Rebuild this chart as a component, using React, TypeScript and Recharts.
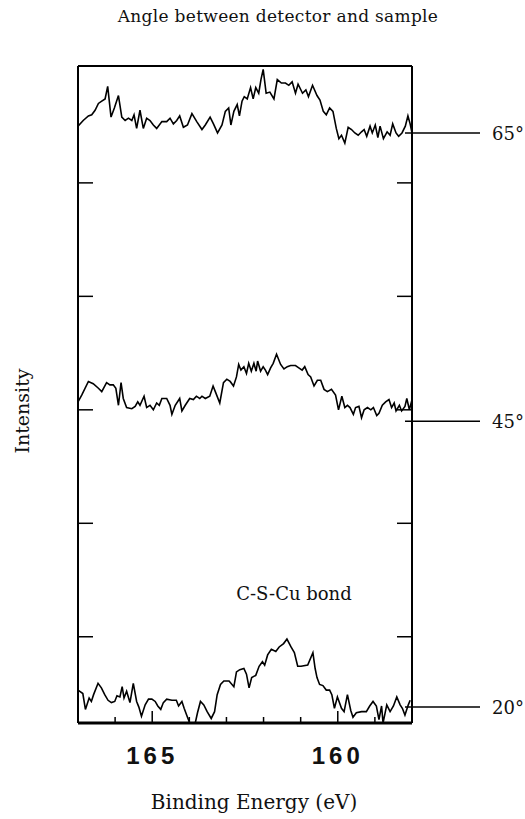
import { LineChart, Line, XAxis, YAxis, ReferenceDot } from 'recharts';

// binding energy (eV) and intensity (arb. units, curves stacked as in the figure)
const energy65 = [
  167.0, 166.86, 166.72, 166.63, 166.54, 166.45, 166.36, 166.27, 166.2, 166.11,
  166.02, 165.91, 165.82, 165.73, 165.64, 165.55, 165.49, 165.42, 165.33, 165.24,
  165.15, 165.06, 164.97, 164.88, 164.74, 164.61, 164.52, 164.43, 164.34, 164.26,
  164.16, 164.05, 163.93, 163.8, 163.66, 163.57, 163.44, 163.35, 163.24, 163.12,
  163.03, 162.94, 162.88, 162.8, 162.71, 162.65, 162.58, 162.52, 162.44, 162.35,
  162.28, 162.21, 162.13, 162.07, 162.01, 161.93, 161.83, 161.72, 161.63, 161.52,
  161.41, 161.32, 161.23, 161.14, 161.07, 160.95, 160.86, 160.79, 160.68, 160.56,
  160.48, 160.39, 160.31, 160.22, 160.13, 160.04, 159.97, 159.9, 159.81, 159.72,
  159.63, 159.54, 159.45, 159.36, 159.29, 159.22, 159.13, 159.07, 158.99, 158.92,
  158.86, 158.77, 158.67, 158.59, 158.52, 158.43, 158.36, 158.27, 158.18, 158.11,
  158.05, 158.0,
];
const intensity65 = [
  4.5, 4.55, 4.59, 4.6, 4.64, 4.7, 4.72, 4.74, 4.85, 4.58,
  4.66, 4.77, 4.58, 4.55, 4.57, 4.55, 4.6, 4.48, 4.64, 4.48,
  4.57, 4.55, 4.51, 4.48, 4.54, 4.54, 4.57, 4.52, 4.55, 4.59,
  4.49, 4.51, 4.61, 4.54, 4.47, 4.51, 4.58, 4.52, 4.44, 4.51,
  4.63, 4.66, 4.51, 4.63, 4.69, 4.59, 4.72, 4.76, 4.74, 4.84,
  4.74, 4.84, 4.79, 4.91, 5.0, 4.79, 4.8, 4.74, 4.91, 4.88,
  4.88, 4.86, 4.89, 4.79, 4.87, 4.79, 4.82, 4.76, 4.86, 4.77,
  4.73, 4.63, 4.6, 4.66, 4.63, 4.48, 4.39, 4.42, 4.35, 4.49,
  4.47, 4.44, 4.42, 4.45, 4.47, 4.41, 4.5, 4.44, 4.51, 4.4,
  4.5, 4.39, 4.45, 4.42, 4.52, 4.44, 4.41, 4.44, 4.5, 4.59,
  4.52, 4.44,
];

const energy45 = [
  167.0, 166.9, 166.72, 166.59, 166.45, 166.36, 166.23, 166.14, 166.05, 165.98,
  165.91, 165.84, 165.78, 165.69, 165.55, 165.46, 165.39, 165.33, 165.22, 165.15,
  165.06, 164.97, 164.88, 164.81, 164.74, 164.61, 164.52, 164.47, 164.38, 164.26,
  164.2, 164.11, 163.99, 163.89, 163.81, 163.72, 163.66, 163.57, 163.45, 163.36,
  163.3, 163.18, 163.08, 162.99, 162.9, 162.81, 162.73, 162.67, 162.61, 162.53,
  162.46, 162.4, 162.33, 162.26, 162.2, 162.16, 162.08, 162.01, 161.95, 161.89,
  161.81, 161.74, 161.65, 161.54, 161.45, 161.36, 161.27, 161.14, 161.05, 160.96,
  160.89, 160.8, 160.73, 160.64, 160.55, 160.46, 160.37, 160.28, 160.17, 160.06,
  159.98, 159.89, 159.81, 159.74, 159.67, 159.58, 159.52, 159.43, 159.36, 159.29,
  159.2, 159.11, 159.04, 158.95, 158.89, 158.8, 158.71, 158.62, 158.55, 158.48,
  158.43, 158.34, 158.28, 158.19, 158.14, 158.07, 158.0,
];
const intensity45 = [
  2.07, 2.13, 2.25, 2.23, 2.19, 2.16, 2.24, 2.22, 2.22, 2.19,
  2.04, 2.24, 2.1, 2.02, 2.01, 2.03, 2.07, 2.04, 2.12, 2.02,
  2.04, 2.0, 2.06, 2.04, 2.1, 2.1, 2.04, 1.96, 2.04, 2.1,
  1.99, 2.04, 2.1, 2.09, 2.12, 2.1, 2.12, 2.1, 2.12, 2.21,
  2.16, 2.06, 2.24, 2.27, 2.25, 2.21, 2.29, 2.4, 2.35, 2.38,
  2.32, 2.41, 2.34, 2.41, 2.34, 2.43, 2.34, 2.38, 2.35, 2.31,
  2.37, 2.41, 2.49, 2.4, 2.36, 2.38, 2.39, 2.39, 2.37, 2.35,
  2.38, 2.31, 2.29, 2.21, 2.26, 2.26, 2.18, 2.16, 2.18, 2.13,
  2.0, 2.12, 2.02, 2.04, 2.02, 1.96, 2.02, 2.03, 1.93, 2.0,
  2.02, 2.0, 2.02, 1.95, 1.97, 2.04, 2.07, 2.09, 2.02, 2.06,
  1.99, 2.04, 1.99, 2.03, 2.1, 2.0, 2.09,
];

const energy20 = [
  167.0, 166.87, 166.8, 166.7, 166.64, 166.58, 166.46, 166.37, 166.28, 166.19,
  166.1, 166.01, 165.95, 165.87, 165.81, 165.76, 165.69, 165.6, 165.51, 165.42,
  165.36, 165.29, 165.19, 165.1, 165.01, 164.92, 164.85, 164.77, 164.7, 164.61,
  164.47, 164.35, 164.29, 164.2, 164.14, 164.06, 163.99, 163.88, 163.84, 163.78,
  163.7, 163.61, 163.52, 163.41, 163.32, 163.25, 163.16, 163.07, 162.93, 162.8,
  162.73, 162.64, 162.53, 162.46, 162.39, 162.32, 162.21, 162.12, 162.03, 161.97,
  161.89, 161.79, 161.67, 161.58, 161.46, 161.37, 161.26, 161.17, 161.08, 160.99,
  160.81, 160.67, 160.61, 160.56, 160.49, 160.4, 160.31, 160.22, 160.16, 160.09,
  160.01, 159.9, 159.83, 159.74, 159.65, 159.59, 159.5, 159.36, 159.23, 159.14,
  159.05, 158.96, 158.89, 158.82, 158.78, 158.68, 158.59, 158.5, 158.41, 158.32,
  158.26, 158.19, 158.1, 158.05,
];
const intensity20 = [
  -0.47, -0.5, -0.64, -0.54, -0.57, -0.51, -0.41, -0.45, -0.51, -0.56,
  -0.58, -0.57, -0.52, -0.53, -0.44, -0.54, -0.48, -0.58, -0.41, -0.57,
  -0.62, -0.7, -0.6, -0.55, -0.55, -0.57, -0.61, -0.64, -0.58, -0.55,
  -0.56, -0.56, -0.61, -0.57, -0.63, -0.7, -0.76, -0.76, -0.76, -0.67,
  -0.57, -0.6, -0.66, -0.72, -0.66, -0.51, -0.42, -0.39, -0.39, -0.44,
  -0.31, -0.29, -0.28, -0.33, -0.45, -0.36, -0.34, -0.26, -0.22, -0.25,
  -0.16, -0.11, -0.13, -0.09, -0.06, -0.02, -0.09, -0.14, -0.26, -0.26,
  -0.25, -0.14, -0.28, -0.36, -0.42, -0.43, -0.47, -0.47, -0.51, -0.63,
  -0.53, -0.63, -0.66, -0.51, -0.65, -0.71, -0.67, -0.66, -0.66, -0.61,
  -0.57, -0.61, -0.73, -0.61, -0.76, -0.6, -0.66, -0.61, -0.53, -0.6,
  -0.63, -0.69, -0.6, -0.56,
];

const energyTicks = [159, 160, 161, 162, 163, 164, 165, 166];
const energyLabels = [165, 160];
const intensityTicks = [0, 1, 2, 3, 4];
const angleLevels = [4.44, 1.9, -0.62];
const angleLabels = ['65°', '45°', '20°'];
const note = { e: 161.18, v: 0.38, text: 'C-S-Cu bond' };

const energyDomain = [158, 167];
const intensityDomain = [-0.76, 5.03];

const serif = "'DejaVu Serif', 'Liberation Serif', serif";
const sans = "'Liberation Sans', Arial, sans-serif";

const toPoints = (es: number[], vs: number[]) => es.map((e, i) => ({ e, v: vs[i] }));
const series = [
  { key: '65', data: toPoints(energy65, intensity65) },
  { key: '45', data: toPoints(energy45, intensity45) },
  { key: '20', data: toPoints(energy20, intensity20) },
];

const BottomTick = (props: any) => {
  const { x, y, payload } = props;
  const major = energyLabels.includes(payload.value);
  return (
    <g>
      <line x1={x} y1={y} x2={x} y2={y - (major ? 12 : 6)} stroke="#000" strokeWidth={1.5} />
      {major && (
        <text x={x} y={y + 41} textAnchor="middle" fontFamily={sans} fontWeight="bold" fontSize={24} letterSpacing={4} fill="#111">
          {payload.value}
        </text>
      )}
    </g>
  );
};

const TopTick = (props: any) => {
  const { x, y, payload } = props;
  const major = energyLabels.includes(payload.value);
  return <line x1={x} y1={y} x2={x} y2={y + (major ? 14 : 8)} stroke="#000" strokeWidth={1.5} />;
};

const LeftTick = (props: any) => {
  const { x, y } = props;
  return <line x1={x} y1={y} x2={x + 15} y2={y} stroke="#000" strokeWidth={1.5} />;
};

const RightTick = (props: any) => {
  const { x, y, payload } = props;
  const idx = angleLevels.indexOf(payload.value);
  if (idx >= 0) {
    return (
      <g>
        <line x1={x - 7} y1={y} x2={x + 68} y2={y} stroke="#000" strokeWidth={1.5} />
        <text x={x + 80} y={y + 7} fontFamily={serif} fontSize={18} fill="#111">
          {angleLabels[idx]}
        </text>
      </g>
    );
  }
  return <line x1={x} y1={y} x2={x - 15} y2={y} stroke="#000" strokeWidth={1.5} />;
};

export default function App() {
  return (
    <div style={{ position: 'absolute', left: 0, top: 0, background: '#fff' }}>
      <LineChart width={525} height={819} margin={{ top: 56, right: 73, bottom: 46, left: 38 }}>
        <XAxis
          dataKey="e"
          type="number"
          domain={energyDomain}
          reversed
          allowDataOverflow
          ticks={energyTicks}
          interval={0}
          height={50}
          tickSize={0}
          tickMargin={0}
          tickLine={false}
          axisLine={{ stroke: '#000', strokeWidth: 3 }}
          tick={BottomTick}
          label={() => (
            <text x={254} y={809} textAnchor="middle" fontFamily={serif} fontSize={20} fill="#111">
              Binding Energy (eV)
            </text>
          )}
        />
        <XAxis
          xAxisId="top"
          orientation="top"
          type="number"
          domain={energyDomain}
          reversed
          allowDataOverflow
          ticks={energyTicks}
          interval={0}
          height={10}
          tickSize={0}
          tickMargin={0}
          tickLine={false}
          axisLine={{ stroke: '#000', strokeWidth: 2 }}
          tick={TopTick}
          label={() => (
            <text x={278} y={22} textAnchor="middle" fontFamily={serif} fontSize={17} letterSpacing={0.3} fill="#111">
              Angle between detector and sample
            </text>
          )}
        />
        <YAxis
          type="number"
          domain={intensityDomain}
          allowDataOverflow
          ticks={intensityTicks}
          interval={0}
          width={40}
          tickSize={0}
          tickMargin={0}
          tickLine={false}
          axisLine={{ stroke: '#000', strokeWidth: 2 }}
          tick={LeftTick}
          label={() => (
            <text x={22} y={411} textAnchor="middle" dominantBaseline="central" transform="rotate(-90 22 411)" fontFamily={serif} fontSize={19} fill="#111">
              Intensity
            </text>
          )}
        />
        <YAxis
          yAxisId="right"
          orientation="right"
          type="number"
          domain={intensityDomain}
          allowDataOverflow
          ticks={[...intensityTicks, ...angleLevels].sort((a, b) => a - b)}
          interval={0}
          width={40}
          tickSize={0}
          tickMargin={0}
          tickLine={false}
          axisLine={{ stroke: '#000', strokeWidth: 2 }}
          tick={RightTick}
        />
        {series.map((s) => (
          <Line
            key={s.key}
            data={s.data}
            dataKey="v"
            type="linear"
            stroke="#000"
            strokeWidth={1.6}
            dot={false}
            isAnimationActive={false}
          />
        ))}
        <ReferenceDot
          x={note.e}
          y={note.v}
          r={0}
          fill="none"
          stroke="none"
          label={{ value: note.text, position: 'center', fontFamily: serif, fontSize: 18, fill: '#111' }}
        />
      </LineChart>
    </div>
  );
}
